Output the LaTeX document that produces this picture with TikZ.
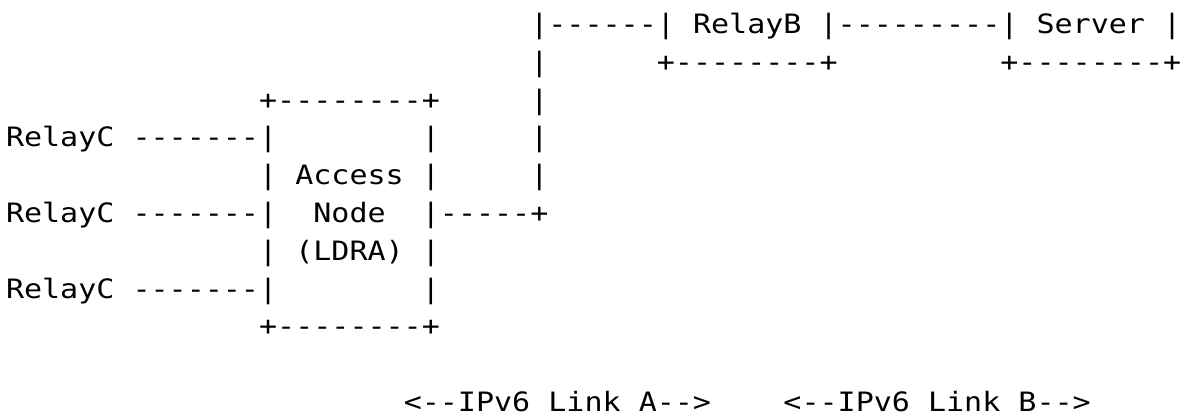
\documentclass[tikz,border=0pt]{standalone}
\usepackage{fontspec}
\usepackage{tikz}
\newfontfamily\asciifont[FakeStretch=1.126]{DejaVu Sans Mono}

\begin{document}
\begin{tikzpicture}[
  x=13.56pt, y=-28.35pt,
  txt/.style={font={\asciifont\fontsize{20pt}{20pt}\selectfont},anchor=base west,inner sep=0pt,outer sep=0pt}
]
\useasboundingbox (-0.332,-0.886) rectangle (65.21,10.119);
% top row: RelayB and Server
\node[txt] (upB) at (29,0) {|------};
\node[txt] (relayB) at (36,0) {| RelayB |};
\node[txt] (linkBS) at (46,0) {---------};
\node[txt] (server) at (55,0) {| Server |};
\node[txt] (upB1) at (29,1) {|};
\node[txt] (relayBbot) at (36,1) {+--------+};
\node[txt] (serverbot) at (55,1) {+--------+};
% access node box
\node[txt] (antop) at (14,2) {+--------+};
\node[txt] (upB2) at (29,2) {|};
\node[txt] (relayC1) at (0,3) {RelayC -------|};
\node[txt] (anr3) at (23,3) {|};
\node[txt] (upB3) at (29,3) {|};
\node[txt] (anl4) at (14,4) {|};
\node[txt] (access) at (16,4) {Access};
\node[txt] (anr4) at (23,4) {|};
\node[txt] (upB4) at (29,4) {|};
\node[txt] (relayC2) at (0,5) {RelayC -------|};
\node[txt] (node) at (17,5) {Node};
\node[txt] (anout) at (23,5) {|-----+};
\node[txt] (anl6) at (14,6) {|};
\node[txt] (ldra) at (16,6) {(LDRA)};
\node[txt] (anr6) at (23,6) {|};
\node[txt] (relayC3) at (0,7) {RelayC -------|};
\node[txt] (anr7) at (23,7) {|};
\node[txt] (anbot) at (14,8) {+--------+};
% link labels
\node[txt] (linkA) at (22,10) {<--IPv6 Link A-->};
\node[txt] (linkB) at (43,10) {<--IPv6 Link B-->};
\end{tikzpicture}
\end{document}
